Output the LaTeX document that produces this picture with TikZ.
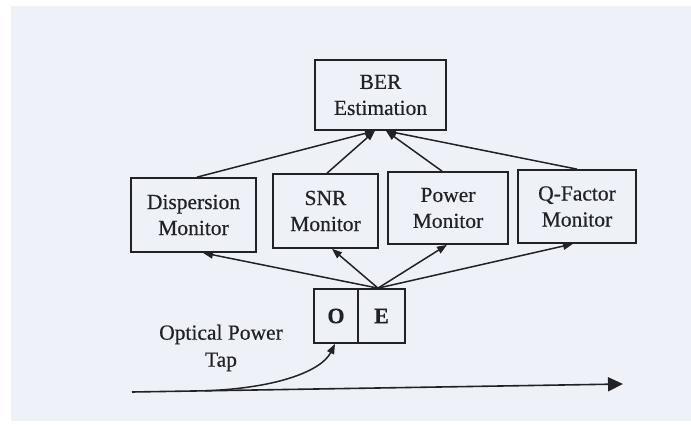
\documentclass[tikz,border=0pt]{standalone}
\usepackage{fontspec}
\setmainfont{Liberation Serif}[FakeBold=0.5]
\usetikzlibrary{arrows.meta}
\definecolor{bgcol}{RGB}{238,241,247}
\definecolor{ink}{RGB}{34,34,38}
\begin{document}
\begin{tikzpicture}[x=1pt,y=-1pt,
  box/.style={draw=ink, line width=1.7pt, inner sep=0pt, align=center,
    text=ink, font=\fontsize{21.5}{26}\selectfont},
  oebox/.style={draw=ink, line width=1.7pt, inner sep=0pt, text=ink,
    font=\fontsize{22}{26}\selectfont\bfseries, minimum height=54pt},
  conn/.style={line width=1.5pt, draw=ink, -{Triangle[length=10pt,width=7.5pt]}},
  mainline/.style={line width=1.6pt, draw=ink, -{Triangle[length=15pt,width=14pt]}},
  lbl/.style={align=center, text=ink, font=\fontsize{21.5}{27}\selectfont}]
\useasboundingbox (0,0) rectangle (691,425);
\fill[white] (0,0) rectangle (691,425);
\fill[bgcol] (11,6) rectangle (691,421);

\node[box, minimum width=131pt, minimum height=70pt] (ber) at (380.5,95) {BER\\Estimation};
\node[box, minimum width=125pt, minimum height=74pt] (disp) at (193.5,215) {Dispersion\\Monitor};
\node[box, minimum width=105pt, minimum height=74pt] (snr) at (325.5,211) {SNR\\Monitor};
\node[box, minimum width=120pt, minimum height=72pt] (pow) at (448,208) {Power\\Monitor};
\node[box, minimum width=118pt, minimum height=73pt] (qf) at (577,206.5) {Q-Factor\\Monitor};

\node[oebox, minimum width=44pt] (o) at (336,316) {O};
\node[oebox, minimum width=47pt] (e) at (381.5,316) {E};

\node[lbl] (tap) at (221,348) {Optical Power\\Tap};

% monitors to BER
\draw[conn] ([xshift=3.5pt]disp.north) -- ([xshift=-5.5pt]ber.south);
\draw[conn] ([xshift=1.5pt]snr.north) -- ([xshift=-5.5pt]ber.south);
\draw[conn] ([xshift=-6pt]pow.north) -- ([xshift=5.5pt]ber.south);
\draw[conn] (qf.north) -- ([xshift=5.5pt]ber.south);

% OE to monitors
\draw[conn] ([xshift=-3.5pt]e.north) -- ([xshift=9.5pt]disp.south);
\draw[conn] ([xshift=-3.5pt]e.north) -- ([xshift=6.5pt]snr.south);
\draw[conn] ([xshift=-3.5pt]e.north) -- ([xshift=-1pt]pow.south);
\draw[conn] ([xshift=-3.5pt]e.north) -- ([xshift=-4pt]qf.south);

% fibre line and tap
\coordinate (inL) at (132,392);
\coordinate (outR) at (623,384);
\coordinate (tapstart) at (205,390.8);
\draw[mainline] (inL) -- (outR);
\draw[conn] (tapstart) .. controls (280,388) and (322,370) .. ([xshift=-1pt]o.south);
\end{tikzpicture}
\end{document}
